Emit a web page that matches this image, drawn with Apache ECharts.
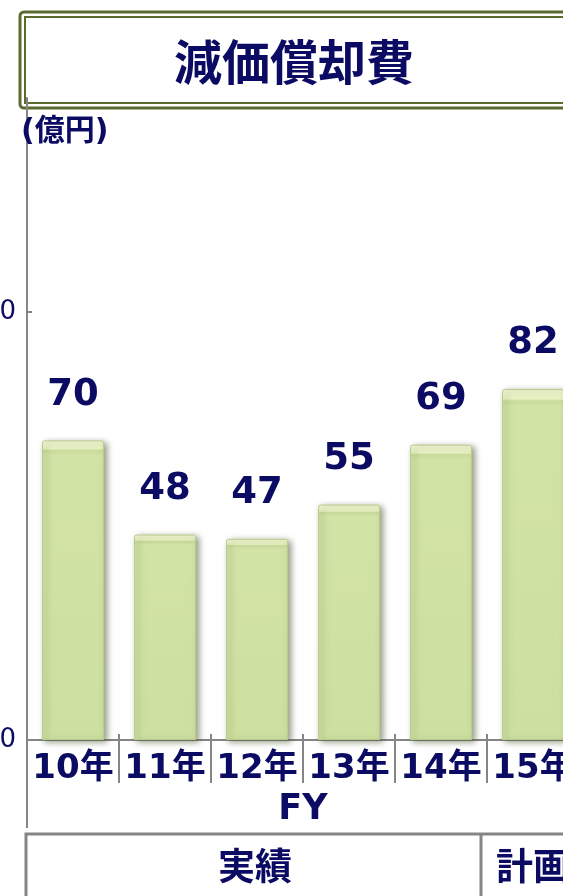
<!DOCTYPE html>
<html>
<head>
<meta charset="utf-8">
<script src="https://cdn.jsdelivr.net/npm/echarts@6/dist/echarts.min.js"></script>
<style>
  html, body { margin: 0; padding: 0; background: #fff; }
  #main { width: 563px; height: 896px; }
</style>
</head>
<body>
<div id="main"></div>
<script>
// 減価償却費（億円）
const years = ['10年', '11年', '12年', '13年', '14年', '15年'];
const values = [70, 48, 47, 55, 69, 82];
const yTicks = [0, 100];

const navy = '#0b0b63';
const grey = '#858585';
const latin = "'DejaVu Sans', 'Noto Sans CJK JP', sans-serif";
const cjk = "'Noto Sans CJK JP', 'DejaVu Sans', sans-serif";

const chart = echarts.init(document.getElementById('main'));

// 柱の面取り風グラデーション
const barColor = new echarts.graphic.LinearGradient(0, 0, 0, 1, [
  { offset: 0, color: '#f4fad6' },
  { offset: 0.028, color: '#e8f2c2' },
  { offset: 0.034, color: '#c9dc9a' },
  { offset: 0.05, color: '#d2e3a6' },
  { offset: 1, color: '#cde0a0' }
]);

chart.setOption({
  animation: false,
  grid: {
    left: 27,
    right: -16,
    top: 98,
    bottom: 156,
    containLabel: false,
    outerBoundsMode: 'none'
  },
  xAxis: [
    {
      type: 'category',
      data: years,
      name: 'FY',
      nameLocation: 'middle',
      nameGap: 52,
      nameTextStyle: { color: navy, fontSize: 35, fontWeight: 'bold', fontFamily: latin },
      axisLine: { lineStyle: { color: grey, width: 2 } },
      axisTick: { show: true, inside: false, interval: 0, length: 43, lineStyle: { color: grey, width: 2 } },
      axisLabel: {
        interval: 0,
        color: navy,
        fontSize: 34,
        fontWeight: 'bold',
        fontFamily: latin,
        margin: 12
      }
    },
    {
      type: 'category',
      data: years,
      position: 'bottom',
      axisLine: { show: false },
      axisTick: { show: true, inside: true, interval: 0, length: 6, lineStyle: { color: grey, width: 2 } },
      axisLabel: { show: false }
    }
  ],
  yAxis: {
    type: 'value',
    min: 0,
    max: 150,
    interval: 50,
    splitLine: { show: false },
    axisLine: { show: true, lineStyle: { color: grey, width: 2 } },
    axisTick: { show: true, inside: true, length: 5, customValues: yTicks, lineStyle: { color: grey, width: 2 } },
    axisLabel: {
      customValues: yTicks,
      color: navy,
      fontSize: 26,
      fontFamily: latin,
      margin: 11,
      padding: [4, 0, 0, 0]
    }
  },
  series: [
    {
      type: 'bar',
      data: values,
      barWidth: 62,
      itemStyle: {
        color: barColor,
        borderColor: '#b9cc8c',
        borderWidth: 1,
        borderRadius: [2, 2, 0, 0],
        shadowColor: 'rgba(60, 70, 30, 0.55)',
        shadowBlur: 6,
        shadowOffsetX: 3,
        shadowOffsetY: 2
      },
      label: {
        show: true,
        position: 'top',
        distance: 27,
        color: navy,
        fontSize: 37,
        fontWeight: 'bold',
        fontFamily: latin
      }
    }
  ],
  graphic: [
    // タイトル枠（二重線）
    {
      type: 'rect',
      z: -1,
      shape: { x: 20, y: 12, width: 620, height: 96, r: 4 },
      style: { fill: '#fff', stroke: '#5b6b2e', lineWidth: 3 }
    },
    {
      type: 'rect',
      z: -1,
      shape: { x: 25, y: 17, width: 620, height: 86 },
      style: { fill: '#fff', stroke: '#5b6b2e', lineWidth: 2 }
    },
    {
      type: 'text',
      z: 10,
      style: {
        text: '減価償却費',
        x: 294, y: 62,
        align: 'center', verticalAlign: 'middle',
        fill: navy, font: 'bold 48px ' + cjk
      }
    },
    {
      type: 'text',
      z: 10,
      style: {
        text: '(億円)',
        x: 21, y: 132,
        align: 'left', verticalAlign: 'middle',
        fill: navy, font: 'bold 30px ' + latin
      }
    },
    // 縦軸の延長
    {
      type: 'line',
      z: 10,
      shape: { x1: 27, y1: 740, x2: 27, y2: 828 },
      style: { stroke: grey, lineWidth: 2 }
    },
    // 実績・計画の表
    {
      type: 'polyline',
      z: 10,
      shape: { points: [[26, 896], [26, 834], [570, 834]] },
      style: { stroke: grey, lineWidth: 3, fill: null }
    },
    {
      type: 'line',
      z: 10,
      shape: { x1: 481, y1: 834, x2: 481, y2: 896 },
      style: { stroke: grey, lineWidth: 3 }
    },
    {
      type: 'text',
      z: 10,
      style: {
        text: '実績',
        x: 255, y: 866,
        align: 'center', verticalAlign: 'middle',
        fill: navy, font: 'bold 37px ' + cjk
      }
    },
    {
      type: 'text',
      z: 10,
      style: {
        text: '計画',
        x: 496, y: 866,
        align: 'left', verticalAlign: 'middle',
        fill: navy, font: 'bold 37px ' + cjk
      }
    }
  ]
});

window.addEventListener('resize', () => {
  chart.resize();
});
</script>
</body>
</html>
